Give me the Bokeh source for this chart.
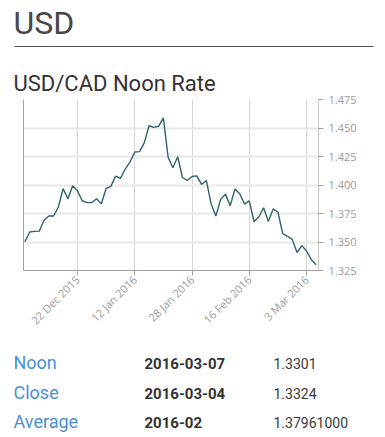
import math
from bokeh.plotting import figure
from bokeh.models import Range1d, LinearAxis, FixedTicker, ColumnDataSource, Title
from bokeh.core.properties import value
from bokeh.embed import file_html
from bokeh.resources import INLINE

# ---------------- data ----------------
dates = [
    "2015-12-07", "2015-12-08", "2015-12-09", "2015-12-10", "2015-12-11",
    "2015-12-14", "2015-12-15", "2015-12-16", "2015-12-17", "2015-12-18",
    "2015-12-21", "2015-12-22", "2015-12-23", "2015-12-24", "2015-12-29",
    "2015-12-30", "2015-12-31", "2016-01-04", "2016-01-05", "2016-01-06",
    "2016-01-07", "2016-01-08", "2016-01-11", "2016-01-12", "2016-01-13",
    "2016-01-14", "2016-01-15", "2016-01-18", "2016-01-19", "2016-01-20",
    "2016-01-21", "2016-01-22", "2016-01-25", "2016-01-26", "2016-01-27",
    "2016-01-28", "2016-01-29", "2016-02-01", "2016-02-02", "2016-02-03",
    "2016-02-04", "2016-02-05", "2016-02-08", "2016-02-09", "2016-02-10",
    "2016-02-11", "2016-02-12", "2016-02-16", "2016-02-17", "2016-02-18",
    "2016-02-19", "2016-02-22", "2016-02-23", "2016-02-24", "2016-02-25",
    "2016-02-26", "2016-02-29", "2016-03-01", "2016-03-02", "2016-03-03",
    "2016-03-04", "2016-03-07",
]
noon_rate = [
    1.3502, 1.3588, 1.3593, 1.3595, 1.3690, 1.3728, 1.3728, 1.3807, 1.3968, 1.3880,
    1.3994, 1.3950, 1.3862, 1.3845, 1.3845, 1.3880, 1.3836, 1.3968, 1.3988, 1.4078,
    1.4058, 1.4140, 1.4200, 1.4290, 1.4293, 1.4370, 1.4520, 1.4505, 1.4515, 1.4589,
    1.4242, 1.4151, 1.4248, 1.4066, 1.4040, 1.4075, 1.4080, 1.4005, 1.4040, 1.3836,
    1.3728, 1.3874, 1.3920, 1.3818, 1.3964, 1.3923, 1.3833, 1.3860, 1.3680, 1.3719,
    1.3800, 1.3680, 1.3790, 1.3763, 1.3573, 1.3550, 1.3523, 1.3407, 1.3468, 1.3421,
    1.3345, 1.3301,
]
x_tick_dates = ["2015-12-22", "2016-01-12", "2016-01-28", "2016-02-16", "2016-03-03"]
x_tick_labels = ["22 Dec 2015", "12 Jan 2016", "28 Jan 2016", "16 Feb 2016", "3 Mar 2016"]
y_ticks = [1.325, 1.350, 1.375, 1.400, 1.425, 1.450, 1.475]

page_title = "USD"
chart_title = "USD/CAD Noon Rate"
table_labels = ["Noon", "Close", "Average"]
table_dates = ["2016-03-07", "2016-03-04", "2016-02"]
table_values = ["1.3301", "1.3324", "1.37961000"]

W = 385
HEAD_H, CHART_H, TABLE_H = 52, 293, 92
CHART_TOP = 99 - HEAD_H


def text_panel(h):
    f = figure(width=W, height=h, x_range=Range1d(0, W), y_range=Range1d(h, 0),
               min_border_left=0, min_border_right=0, min_border_top=0, min_border_bottom=0,
               output_backend="svg", toolbar_location=None,
               x_axis_location=None, y_axis_location=None,
               background_fill_color="white", border_fill_color="white")
    f.outline_line_color = None
    f.xgrid.visible = False
    f.ygrid.visible = False
    return f


def put_text(f, xs, baselines, texts, size, color, style="normal"):
    # place text so that its alphabetic baseline sits at the wanted pixel row
    shift = 0.34 * size
    f.text(x=xs, y=[b - shift for b in baselines], text=texts, text_font=value("Roboto"),
           text_font_size=f"{size}px", text_color=color, text_font_style=style,
           text_baseline="alphabetic")


# ---------------- header ----------------
head = text_panel(HEAD_H)
put_text(head, [13], [33], [page_title], 32, "#474747")
head.segment(x0=[14], y0=[46], x1=[373], y1=[46], line_color="#555555", line_width=1)

# ---------------- chart ----------------
x_index = list(range(len(dates)))
x_ticks = [dates.index(d) for d in x_tick_dates]

p = figure(frame_width=295, frame_height=171,
           min_border_left=23, min_border_top=CHART_TOP, min_border_right=67,
           min_border_bottom=CHART_H - 171 - CHART_TOP,
           x_range=Range1d(-0.3, len(dates) - 0.5), y_range=Range1d(y_ticks[0], y_ticks[-1]),
           x_axis_location=None, y_axis_location=None,
           output_backend="svg", toolbar_location=None,
           background_fill_color="white", border_fill_color="white")
p.outline_line_color = None
p.title = Title(text=chart_title, align="left", offset=-10, standoff=8,
                text_font="Roboto", text_font_size="22px", text_font_style="normal",
                text_color="#333333")

xa = LinearAxis(ticker=FixedTicker(ticks=x_ticks),
                major_label_overrides={t: l for t, l in zip(x_ticks, x_tick_labels)},
                major_label_orientation=math.pi / 4)
xa.axis_line_color = "#a0a0a0"
xa.major_tick_line_color = "#a0a0a0"
xa.major_tick_in = 0
xa.major_tick_out = 5
xa.minor_tick_line_color = None
xa.major_label_text_font = "Open Sans"
xa.major_label_text_font_size = "11px"
xa.major_label_text_color = "#9a9a9a"
xa.major_label_standoff = 2
p.add_layout(xa, "below")

ya = LinearAxis(ticker=FixedTicker(ticks=y_ticks),
                major_label_overrides={t: f"{t:.3f}" for t in y_ticks})
ya.axis_line_color = "#c8c8c8"
ya.major_tick_line_color = "#a0a0a0"
ya.major_tick_in = 0
ya.major_tick_out = 5
ya.minor_tick_line_color = None
ya.major_label_text_font = "Open Sans"
ya.major_label_text_font_size = "11px"
ya.major_label_text_color = "#9a9a9a"
ya.major_label_standoff = 5
p.add_layout(ya, "right")

la = LinearAxis(ticker=FixedTicker(ticks=[]))
la.axis_line_color = "#a0a0a0"
la.major_tick_line_color = None
la.minor_tick_line_color = None
la.major_label_text_font_size = "0px"
p.add_layout(la, "left")

p.xgrid.ticker = FixedTicker(ticks=x_ticks)
p.xgrid.grid_line_color = "#d6d6d6"
p.xgrid.grid_line_width = 1
p.ygrid.ticker = FixedTicker(ticks=y_ticks)
p.ygrid.grid_line_color = "#e8e8e8"
p.ygrid.grid_line_width = 2

src = ColumnDataSource(dict(x=x_index, y=noon_rate))
p.line("x", "y", source=src, line_color="#2f6469", line_width=1.4)

# ---------------- table ----------------
tab = text_panel(TABLE_H)
row_base = [23, 53, 82]
put_text(tab, [13] * 3, row_base, table_labels, 18, "#4a8fd6")
put_text(tab, [144] * 3, row_base, table_dates, 15, "#333333", style="bold")
put_text(tab, [273] * 3, row_base, table_values, 14, "#3a3a3a")

open("out.html", "w").write(file_html([head, p, tab], INLINE))
